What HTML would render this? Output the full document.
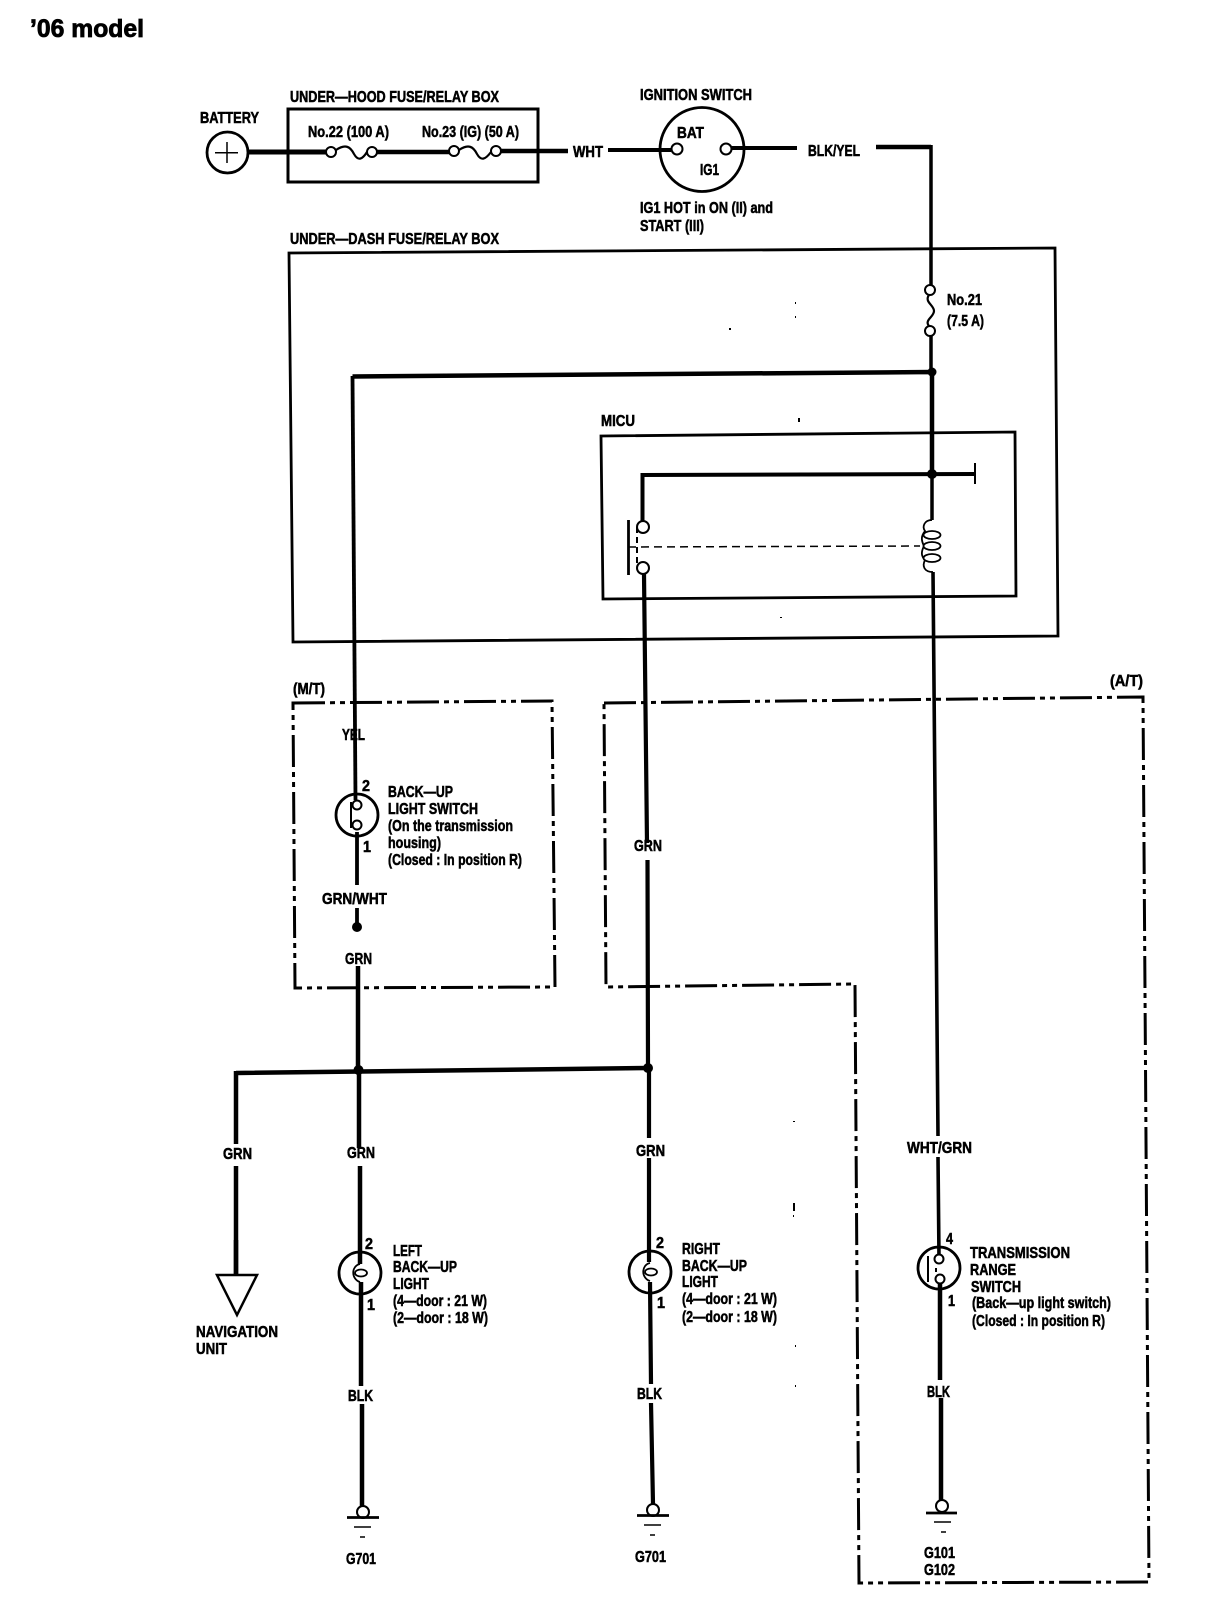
<!DOCTYPE html>
<html><head><meta charset="utf-8"><style>
html,body{margin:0;padding:0;background:#fff;width:1216px;height:1624px;overflow:hidden}
svg{display:block}
text{font-family:"Liberation Sans",sans-serif;font-weight:bold;font-size:16px;fill:#000;stroke:#000;stroke-width:.55}
.w{fill:none;stroke:#000;stroke-linecap:butt;stroke-linejoin:miter}
.c{fill:#fff;stroke:#000;stroke-width:2}
.d{fill:none;stroke:#000;stroke-width:3;stroke-dasharray:32 5 5 5 5 5}
</style></head><body>
<svg width="1216" height="1624" viewBox="0 0 1216 1624" xmlns="http://www.w3.org/2000/svg">
<rect width="1216" height="1624" fill="#fff"/>
<text x="30" y="37" style="font-size:25px;stroke-width:.8" textLength="114" lengthAdjust="spacingAndGlyphs">’06 model</text>

<!-- boxes -->
<path class="w" style="stroke-width:3" d="M288 109H538V182H288Z"/>
<path class="w" style="stroke-width:2.800" d="M289 253L1055 248L1058 636L293 642Z"/>
<path class="w" style="stroke-width:2.800" d="M601 436L1015 432L1016 596L603 599Z"/>
<path class="d" d="M293 703L552 701L555 987L295 988Z"/>
<path class="d" d="M604 703L1143 697L1149 1582L859 1583L855 984L606 987Z"/>

<!-- top wires -->
<path class="w" style="stroke-width:5" d="M248 152H326"/>
<path class="w" style="stroke-width:4.500" d="M377 152H449M501 151H568"/>
<path class="w" style="stroke-width:4" d="M608 150H671M731 148H797"/>
<path class="w" style="stroke-width:4.500" d="M876 147H931"/>
<path class="w" style="stroke-width:3.500" d="M931 145V285"/>
<path class="w" style="stroke-width:2.200" d="M336 150C345 144 350 146 354 154C358 161 362 160 367 152M459 150C468 144 473 146 477 154C481 161 485 160 491 152"/>
<path class="w" style="stroke-width:2.200" d="M929 295C924 302 934 305 934 311C934 317 924 320 929 326"/>
<circle class="c" cx="227.500" cy="152.500" r="20.500" style="stroke-width:2.800"/>
<path class="w" style="stroke-width:1.500" d="M215 152.700H238M227 142V163"/>
<circle class="c" cx="331" cy="152" r="5"/><circle class="c" cx="372" cy="152" r="5"/>
<circle class="c" cx="454" cy="151" r="5"/><circle class="c" cx="496" cy="151" r="5"/>
<circle class="c" cx="702" cy="149.500" r="42" style="stroke-width:2.800;fill:none"/>
<circle class="c" cx="677" cy="149" r="5.500"/><circle class="c" cx="726" cy="149" r="5.500"/>
<circle class="c" cx="930" cy="290" r="5"/><circle class="c" cx="930" cy="331" r="5"/>

<!-- under dash wires -->
<path class="w" style="stroke-width:3.500" d="M931 336V372"/>
<path class="w" style="stroke-width:4.500" d="M352.500 376.500L932 372M932 372V475"/>
<circle cx="932" cy="372" r="4.500"/>
<path class="w" style="stroke-width:4" d="M642.500 475L975 474M642.500 473V521"/>
<circle cx="932" cy="474" r="5"/>
<path class="w" style="stroke-width:3.500" d="M932 474V520"/>
<path class="w" style="stroke-width:2" d="M975 463V484"/>
<circle class="c" cx="643" cy="527" r="6"/><circle class="c" cx="643" cy="568" r="6"/>
<path class="w" style="stroke-width:2.800" d="M628.500 520V575"/>
<path class="w" style="stroke-width:2;stroke-dasharray:6 4" d="M637 527V565"/>
<path class="w" style="stroke-width:1.500;stroke-dasharray:8 5" d="M628 547L920 546"/>
<!-- coil -->
<path class="w" style="stroke-width:1.800" d="M932 520C924 520 922 527 925 531C921 536 921 540 924 546C921 552 921 556 925 560C922 566 924 572 933 572"/>
<ellipse cx="932" cy="535" rx="8.500" ry="4" style="fill:#fff;stroke:#000;stroke-width:1.800"/>
<ellipse cx="932" cy="546" rx="8.500" ry="4" style="fill:#fff;stroke:#000;stroke-width:1.800"/>
<ellipse cx="932" cy="558" rx="8.500" ry="4" style="fill:#fff;stroke:#000;stroke-width:1.800"/>

<!-- long vertical wires -->
<path class="w" style="stroke-width:3.800" d="M352.500 376L355.500 800"/>
<path class="w" style="stroke-width:3.800" d="M357 832V885M357 908V930"/>
<path class="w" style="stroke-width:4.500" d="M358 966V1072"/>
<path class="w" style="stroke-width:4.200" d="M644 574L647 843M647.500 860L648 1068"/>
<path class="w" style="stroke-width:4.200" d="M649 1068V1138M649 1158V1262M650 1282L651 1384M651 1403L653 1504"/>
<path class="w" style="stroke-width:3.600" d="M933 572L938 1136M938 1157L939 1258"/>
<path class="w" style="stroke-width:4.500" d="M359 1072V1148M360 1166V1264M361 1282V1386M362 1404V1506"/>
<path class="w" style="stroke-width:4.500" d="M940 1284V1380M941 1398V1500"/>
<!-- bus -->
<path class="w" style="stroke-width:4.500" d="M236 1073L649 1068M236 1071V1144M236 1166V1275"/>
<circle cx="358.500" cy="1070" r="5"/><circle cx="648" cy="1068" r="5"/>
<circle cx="357" cy="927" r="5"/>
<path d="M217 1275H257L237 1315Z" style="fill:#fff;stroke:#000;stroke-width:2.500"/>
<path class="w" style="stroke-width:4.500" d="M236 1240V1276"/>

<!-- M/T switch -->
<circle class="c" cx="357" cy="815" r="21" style="fill:none;stroke-width:2.800"/>
<path class="w" style="stroke-width:2" d="M351 802V828"/>
<circle class="c" cx="357" cy="805" r="4.500"/><circle class="c" cx="357" cy="825" r="4.500"/>

<!-- bulbs -->
<circle class="c" cx="360" cy="1273" r="21" style="fill:none;stroke-width:2.800"/>
<path class="w" style="stroke-width:1.800" d="M360 1264C351 1266 351 1279 360 1282"/>
<ellipse cx="361" cy="1273" rx="6" ry="3.500" style="fill:#fff;stroke:#000;stroke-width:1.800"/>
<circle class="c" cx="650" cy="1272" r="21" style="fill:none;stroke-width:2.800"/>
<path class="w" style="stroke-width:1.800" d="M650 1263C641 1265 641 1278 650 1281"/>
<ellipse cx="651" cy="1272" rx="6" ry="3.500" style="fill:#fff;stroke:#000;stroke-width:1.800"/>

<!-- range switch -->
<circle class="c" cx="939" cy="1268" r="21" style="fill:none;stroke-width:2.800"/>
<path class="w" style="stroke-width:2" d="M928 1256V1282M936 1268V1272"/>
<circle class="c" cx="939" cy="1259" r="4.500"/><circle class="c" cx="940" cy="1279" r="4.500"/>

<!-- grounds -->
<circle class="c" cx="363" cy="1512" r="6"/>
<path class="w" style="stroke-width:2.800" d="M347 1517.500H379"/><path class="w" style="stroke-width:1.500" d="M354 1527H371M360 1537H365"/>
<circle class="c" cx="653" cy="1510" r="6"/>
<path class="w" style="stroke-width:2.800" d="M637 1515.500H669"/><path class="w" style="stroke-width:1.500" d="M644 1525H661M650 1535H655"/>
<circle class="c" cx="942" cy="1506" r="6"/>
<path class="w" style="stroke-width:2.800" d="M926 1513H957"/><path class="w" style="stroke-width:1.500" d="M934 1522H951M941 1532H946"/>

<!-- specks -->
<g>
<rect x="798" y="418" width="2" height="4"/><rect x="729" y="328" width="2" height="2"/><rect x="795" y="302" width="1" height="2"/><rect x="795" y="316" width="1" height="2"/>
<rect x="793" y="1121" width="2" height="1"/><rect x="793" y="1203" width="2" height="8"/><rect x="793" y="1215" width="1" height="2"/><rect x="780" y="617" width="2" height="1"/><rect x="795" y="1345" width="1" height="2"/><rect x="795" y="1385" width="1" height="2"/>
</g>

<!-- labels -->
<g>
<text x="200" y="123" textLength="59" lengthAdjust="spacingAndGlyphs">BATTERY</text>
<text x="290" y="102" textLength="209" lengthAdjust="spacingAndGlyphs">UNDER—HOOD FUSE/RELAY BOX</text>
<text x="308" y="137" textLength="81" lengthAdjust="spacingAndGlyphs">No.22 (100 A)</text>
<text x="422" y="137" textLength="97" lengthAdjust="spacingAndGlyphs">No.23 (IG) (50 A)</text>
<text x="573" y="157" textLength="30" lengthAdjust="spacingAndGlyphs">WHT</text>
<text x="640" y="100" textLength="112" lengthAdjust="spacingAndGlyphs">IGNITION SWITCH</text>
<text x="677" y="138" textLength="27" lengthAdjust="spacingAndGlyphs">BAT</text>
<text x="700" y="175" textLength="19" lengthAdjust="spacingAndGlyphs">IG1</text>
<text x="808" y="156" textLength="52" lengthAdjust="spacingAndGlyphs">BLK/YEL</text>
<text x="640" y="213" textLength="133" lengthAdjust="spacingAndGlyphs">IG1 HOT in ON (II) and</text>
<text x="640" y="231" textLength="64" lengthAdjust="spacingAndGlyphs">START (III)</text>
<text x="290" y="244" textLength="209" lengthAdjust="spacingAndGlyphs">UNDER—DASH FUSE/RELAY BOX</text>
<text x="947" y="305" textLength="35" lengthAdjust="spacingAndGlyphs">No.21</text>
<text x="947" y="326" textLength="37" lengthAdjust="spacingAndGlyphs">(7.5 A)</text>
<text x="601" y="426" textLength="34" lengthAdjust="spacingAndGlyphs">MICU</text>
<text x="293" y="694" textLength="32" lengthAdjust="spacingAndGlyphs">(M/T)</text>
<text x="1110" y="686" textLength="33" lengthAdjust="spacingAndGlyphs">(A/T)</text>
<text x="342" y="740" textLength="23" lengthAdjust="spacingAndGlyphs">YEL</text>
<text x="362" y="791" textLength="8" lengthAdjust="spacingAndGlyphs">2</text>
<text x="363" y="852" textLength="8" lengthAdjust="spacingAndGlyphs">1</text>
<text x="388" y="797" textLength="65" lengthAdjust="spacingAndGlyphs">BACK—UP</text>
<text x="388" y="814" textLength="90" lengthAdjust="spacingAndGlyphs">LIGHT SWITCH</text>
<text x="388" y="831" textLength="125" lengthAdjust="spacingAndGlyphs">(On the transmission</text>
<text x="388" y="848" textLength="53" lengthAdjust="spacingAndGlyphs">housing)</text>
<text x="388" y="865" textLength="134" lengthAdjust="spacingAndGlyphs">(Closed : In position R)</text>
<text x="322" y="904" textLength="65" lengthAdjust="spacingAndGlyphs">GRN/WHT</text>
<text x="345" y="964" textLength="27" lengthAdjust="spacingAndGlyphs">GRN</text>
<text x="634" y="851" textLength="28" lengthAdjust="spacingAndGlyphs">GRN</text>
<text x="223" y="1159" textLength="29" lengthAdjust="spacingAndGlyphs">GRN</text>
<text x="347" y="1158" textLength="28" lengthAdjust="spacingAndGlyphs">GRN</text>
<text x="636" y="1156" textLength="29" lengthAdjust="spacingAndGlyphs">GRN</text>
<text x="907" y="1153" textLength="65" lengthAdjust="spacingAndGlyphs">WHT/GRN</text>
<text x="196" y="1337" textLength="82" lengthAdjust="spacingAndGlyphs">NAVIGATION</text>
<text x="196" y="1354" textLength="31" lengthAdjust="spacingAndGlyphs">UNIT</text>
<text x="365" y="1249" textLength="8" lengthAdjust="spacingAndGlyphs">2</text>
<text x="367" y="1310" textLength="8" lengthAdjust="spacingAndGlyphs">1</text>
<text x="393" y="1256" textLength="29" lengthAdjust="spacingAndGlyphs">LEFT</text>
<text x="393" y="1272" textLength="64" lengthAdjust="spacingAndGlyphs">BACK—UP</text>
<text x="393" y="1289" textLength="36" lengthAdjust="spacingAndGlyphs">LIGHT</text>
<text x="393" y="1306" textLength="94" lengthAdjust="spacingAndGlyphs">(4—door : 21 W)</text>
<text x="393" y="1323" textLength="95" lengthAdjust="spacingAndGlyphs">(2—door : 18 W)</text>
<text x="656" y="1248" textLength="8" lengthAdjust="spacingAndGlyphs">2</text>
<text x="657" y="1308" textLength="8" lengthAdjust="spacingAndGlyphs">1</text>
<text x="682" y="1254" textLength="38" lengthAdjust="spacingAndGlyphs">RIGHT</text>
<text x="682" y="1271" textLength="65" lengthAdjust="spacingAndGlyphs">BACK—UP</text>
<text x="682" y="1287" textLength="36" lengthAdjust="spacingAndGlyphs">LIGHT</text>
<text x="682" y="1304" textLength="95" lengthAdjust="spacingAndGlyphs">(4—door : 21 W)</text>
<text x="682" y="1322" textLength="95" lengthAdjust="spacingAndGlyphs">(2—door : 18 W)</text>
<text x="946" y="1244" textLength="7" lengthAdjust="spacingAndGlyphs">4</text>
<text x="948" y="1306" textLength="7" lengthAdjust="spacingAndGlyphs">1</text>
<text x="970" y="1258" textLength="100" lengthAdjust="spacingAndGlyphs">TRANSMISSION</text>
<text x="970" y="1275" textLength="46" lengthAdjust="spacingAndGlyphs">RANGE</text>
<text x="971" y="1292" textLength="50" lengthAdjust="spacingAndGlyphs">SWITCH</text>
<text x="972" y="1308" textLength="139" lengthAdjust="spacingAndGlyphs">(Back—up light switch)</text>
<text x="972" y="1326" textLength="133" lengthAdjust="spacingAndGlyphs">(Closed : In position R)</text>
<text x="348" y="1401" textLength="25" lengthAdjust="spacingAndGlyphs">BLK</text>
<text x="637" y="1399" textLength="25" lengthAdjust="spacingAndGlyphs">BLK</text>
<text x="927" y="1397" textLength="23" lengthAdjust="spacingAndGlyphs">BLK</text>
<text x="346" y="1564" textLength="30" lengthAdjust="spacingAndGlyphs">G701</text>
<text x="635" y="1562" textLength="31" lengthAdjust="spacingAndGlyphs">G701</text>
<text x="924" y="1558" textLength="31" lengthAdjust="spacingAndGlyphs">G101</text>
<text x="924" y="1575" textLength="31" lengthAdjust="spacingAndGlyphs">G102</text>
</g>
</svg>
</body></html>
